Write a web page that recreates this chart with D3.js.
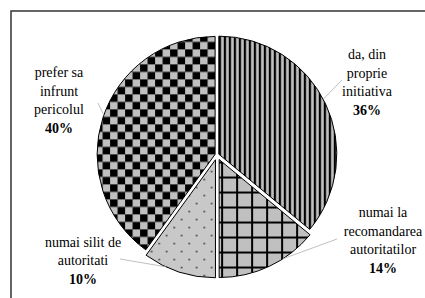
<!DOCTYPE html>
<html>
<head>
<meta charset="utf-8">
<script src="https://cdn.jsdelivr.net/npm/d3@7"></script>
<style>
  body { margin: 0; background: #fff; }
  svg { display: block; }
</style>
</head>
<body>
<script>
// data
var categories = ["da, din proprie initiativa", "numai la recomandarea autoritatilor", "numai silit de autoritati", "prefer sa infrunt pericolul"];
var values = [36, 14, 10, 40];
var labelLines = [["da, din", "proprie", "initiativa"], ["numai la", "recomandarea", "autoritatilor"], ["numai silit de", "autoritati"], ["prefer sa", "infrunt", "pericolul"]];
var pctLabels = ["36%", "14%", "10%", "40%"];

var width = 425, height = 298;
var cx = 217, cy = 155, radius = 118;

// look of each slice
var patternIds = ["pVert", "pGrid", "pDots", "pCheck"];
var explode = [2, 5, 5, 2];
// label block centres, leader start points, where the leader meets the arc
var labelPos = [[367, 82], [383, 240], [83, 260], [59, 100]];
var leaderStart = [[342, 80], [337, 239], [120, 259], [98, 103]];
var leaderFrac = [0.48, 0.35, 0.69, 0.51];
var lineH = 18.5;

var svg = d3.select('body')
  .append('svg')
  .attr('width', width)
  .attr('height', height)
  .style('background', '#ffffff');

var defs = svg.append('defs');

// vertical stripes
var p1 = defs.append('pattern').attr('id', 'pVert').attr('patternUnits', 'userSpaceOnUse')
  .attr('width', 5).attr('height', 5);
p1.append('rect').attr('width', 5).attr('height', 5).attr('fill', '#c0c0c0');
p1.append('rect').attr('width', 2.2).attr('height', 5).attr('fill', '#000');

// grid
var p2 = defs.append('pattern').attr('id', 'pGrid').attr('patternUnits', 'userSpaceOnUse')
  .attr('width', 15).attr('height', 15).attr('x', 2).attr('y', 2);
p2.append('rect').attr('width', 15).attr('height', 15).attr('fill', '#c0c0c0');
p2.append('rect').attr('width', 2).attr('height', 15).attr('fill', '#000');
p2.append('rect').attr('width', 15).attr('height', 2).attr('fill', '#000');

// dots
var p3 = defs.append('pattern').attr('id', 'pDots').attr('patternUnits', 'userSpaceOnUse')
  .attr('width', 15).attr('height', 16);
p3.append('rect').attr('width', 15).attr('height', 16).attr('fill', '#c8c8c8');
p3.append('rect').attr('x', 3).attr('y', 3).attr('width', 1.5).attr('height', 1.5).attr('fill', '#222');
p3.append('rect').attr('x', 10.5).attr('y', 11).attr('width', 1.5).attr('height', 1.5).attr('fill', '#222');

// checkerboard
var p4 = defs.append('pattern').attr('id', 'pCheck').attr('patternUnits', 'userSpaceOnUse')
  .attr('width', 15).attr('height', 15);
p4.append('rect').attr('width', 15).attr('height', 15).attr('fill', '#c0c0c0');
p4.append('rect').attr('width', 7.5).attr('height', 7.5).attr('fill', '#000');
p4.append('rect').attr('x', 7.5).attr('y', 7.5).attr('width', 7.5).attr('height', 7.5).attr('fill', '#000');

// frame (only top and left show inside the window)
svg.append('rect')
  .attr('x', 11).attr('y', 11)
  .attr('width', 430).attr('height', 310)
  .attr('fill', 'none')
  .attr('stroke', '#333')
  .attr('stroke-width', 1.5);

var pie = d3.pie().sort(null).value(function(d) { return d; });
var arcs = pie(values);

var arc = d3.arc().innerRadius(0).outerRadius(radius);

var g = svg.append('g').attr('transform', `translate(${cx},${cy})`);

function midAngle(d) {
  return (d.startAngle + d.endAngle) / 2;
}

g.selectAll('.slice')
  .data(arcs)
  .enter()
  .append('path')
  .attr('class', 'slice')
  .attr('transform', function(d, i) {
    var a = midAngle(d);
    return `translate(${Math.sin(a) * explode[i]},${-Math.cos(a) * explode[i]})`;
  })
  .attr('d', arc)
  .attr('fill', function(d, i) { return 'url(#' + patternIds[i] + ')'; })
  .attr('stroke', '#000')
  .attr('stroke-width', 1);

// leader lines
function leaderEnd(d, i) {
  var m = midAngle(d);
  var a = d.startAngle + (d.endAngle - d.startAngle) * leaderFrac[i];
  return [cx + Math.sin(m) * explode[i] + Math.sin(a) * radius,
          cy - Math.cos(m) * explode[i] - Math.cos(a) * radius];
}

svg.selectAll('.leader')
  .data(arcs)
  .enter()
  .append('line')
  .attr('class', 'leader')
  .attr('x1', function(d, i) { return leaderStart[i][0]; })
  .attr('y1', function(d, i) { return leaderStart[i][1]; })
  .attr('x2', function(d, i) { return leaderEnd(d, i)[0]; })
  .attr('y2', function(d, i) { return leaderEnd(d, i)[1]; })
  .attr('stroke', '#b0b0b0')
  .attr('stroke-width', 0.8);

// labels
arcs.forEach(function(d, i) {
  var lines = labelLines[i].concat([pctLabels[i]]);
  var n = lines.length;
  var t = svg.append('text')
    .attr('x', labelPos[i][0])
    .attr('text-anchor', 'middle')
    .attr('font-family', 'Liberation Serif')
    .attr('font-size', 14)
    .attr('fill', '#000');
  lines.forEach(function(s, j) {
    t.append('tspan')
      .attr('x', labelPos[i][0])
      .attr('y', labelPos[i][1] + (j - (n - 1) / 2) * lineH + 5)
      .attr('font-weight', j === n - 1 ? 'bold' : 'normal')
      .text(s);
  });
});
</script>
</body>
</html>
